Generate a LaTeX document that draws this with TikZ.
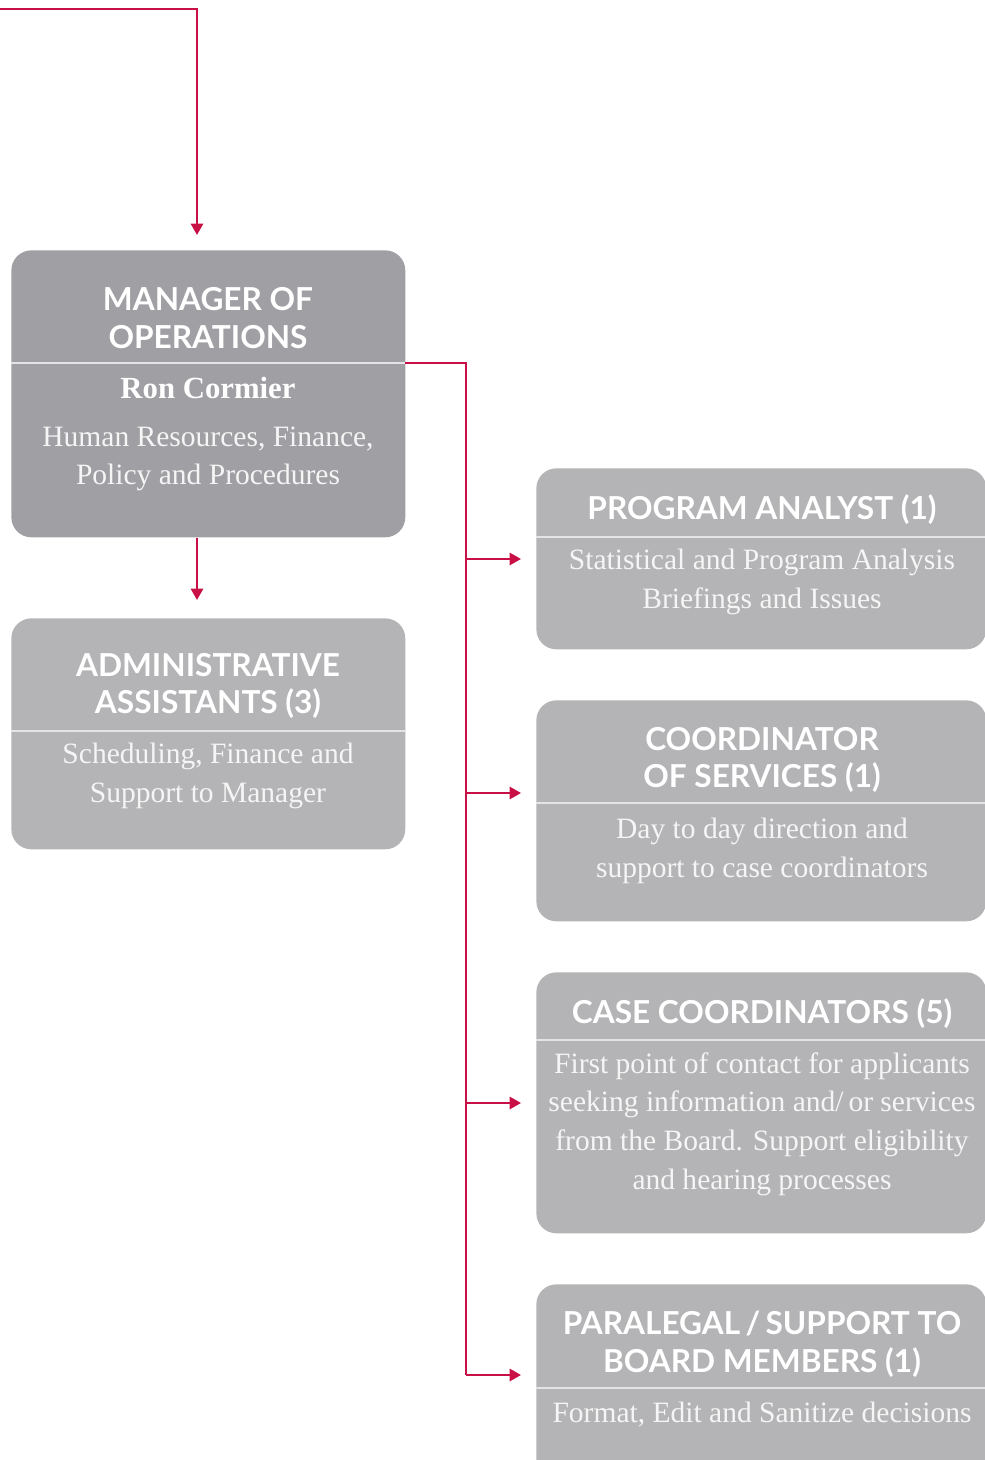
\documentclass[tikz,border=0pt]{standalone}
\usepackage{fontspec}
\newfontfamily\headfont{Lato}
\newfontfamily\bodyfont{Liberation Serif}
\usetikzlibrary{arrows.meta,positioning}

\definecolor{linkred}{RGB}{200,16,70}
\definecolor{darkbox}{RGB}{160,160,164}
\definecolor{lightbox}{RGB}{180,180,182}
\definecolor{rulegrey}{RGB}{228,228,230}
\definecolor{bodytxt}{RGB}{245,245,245}

\begin{document}
\begin{tikzpicture}[x=0.02cm,y=-0.02cm,
	box/.style={anchor=north west,rounded corners=0.4cm,inner sep=0pt},
	head/.style={text=white,align=center,font=\headfont\bfseries\fontsize{18}{21.5}\selectfont},
	body/.style={text=bodytxt,align=center,font=\bodyfont\fontsize{16.8}{22}\selectfont},
	divider/.style={draw=rulegrey,line width=0.6pt},
	trunk/.style={draw=linkred,line width=1.3pt},
	link/.style={trunk,-{Triangle[length=6.5pt,width=7pt]}}]

	\useasboundingbox (0,0) rectangle (984,1460);

	% left column
	\node[box,fill=darkbox,minimum width=7.88cm,minimum height=5.74cm] (mgr) at (11,250) {};
	\node[box,fill=lightbox,minimum width=7.88cm,minimum height=4.62cm] (adm) at (11,618) {};
	\draw[divider] (11,363) -- (405,363);
	\draw[divider] (11,731) -- (405,731);

	\node[head] (mgrhead) at (208,318) {MANAGER OF\\OPERATIONS};
	\node[text=white,font=\bodyfont\bfseries\fontsize{17.5}{22}\selectfont] (mgrname) at (208,388) {Ron Cormier};
	\node[body] (mgrbody) at (208,459) {Human Resources, Finance,\\Policy and Procedures};

	\node[head] (admhead) at (208,686) {ADMINISTRATIVE\\ASSISTANTS (3)};
	\node[body] (admbody) at (208,776) {Scheduling, Finance and\\Support to Manager};

	% right column
	\node[box,fill=lightbox,minimum width=9cm,minimum height=3.62cm] (pa) at (536,468) {};
	\node[box,fill=lightbox,minimum width=9cm,minimum height=4.42cm] (cos) at (536,700) {};
	\node[box,fill=lightbox,minimum width=9cm,minimum height=5.22cm] (cc) at (536,972) {};
	\node[box,fill=lightbox,minimum width=9cm,minimum height=4cm] (pl) at (536,1284) {};
	\draw[divider] (536,537) -- (990,537);
	\draw[divider] (536,803) -- (990,803);
	\draw[divider] (536,1040) -- (990,1040);
	\draw[divider] (536,1388) -- (990,1388);

	\node[head] (pahead) at (762,510) {PROGRAM ANALYST (1)};
	\node[body] (pabody) at (762,582) {Statistical and Program Analysis\\Briefings and Issues};

	\node[head] (coshead) at (762,760) {COORDINATOR\\OF SERVICES (1)};
	\node[body] (cosbody) at (762,851) {Day to day direction and\\support to case coordinators};

	\node[head] (cchead) at (762,1014) {CASE COORDINATORS (5)};
	\node[body] (ccbody) at (762,1124) {First point of contact for applicants\\seeking information and/\,or services\\from the Board. Support eligibility\\and hearing processes};

	\node[head] (plhead) at (762,1344) {PARALEGAL\,/\,SUPPORT TO\\BOARD MEMBERS (1)};
	\node[body] (plbody) at (762,1415) {Format, Edit and Sanitize decisions};

	% connectors
	\coordinate (top) at (0,9);
	\coordinate (mgrin) at (197,250);
	\coordinate (mgrout) at (405,363);
	\coordinate (bus) at (466,363);

	\draw[link,shorten >=0.3cm] (top) -| (mgrin);
	\draw[link,shorten >=0.36cm] (mgrin |- mgr.south) -- (mgrin |- adm.north);
	\draw[trunk] (mgrout) -- (bus) -- (bus |- 0,1375);
	\draw[link,shorten >=0.3cm] (bus |- 0,559) -- (pa.west |- 0,559);
	\draw[link,shorten >=0.3cm] (bus |- 0,793) -- (cos.west |- 0,793);
	\draw[link,shorten >=0.3cm] (bus |- 0,1103) -- (cc.west |- 0,1103);
	\draw[link,shorten >=0.3cm] (bus |- 0,1375) -- (pl.west |- 0,1375);

\end{tikzpicture}
\end{document}
